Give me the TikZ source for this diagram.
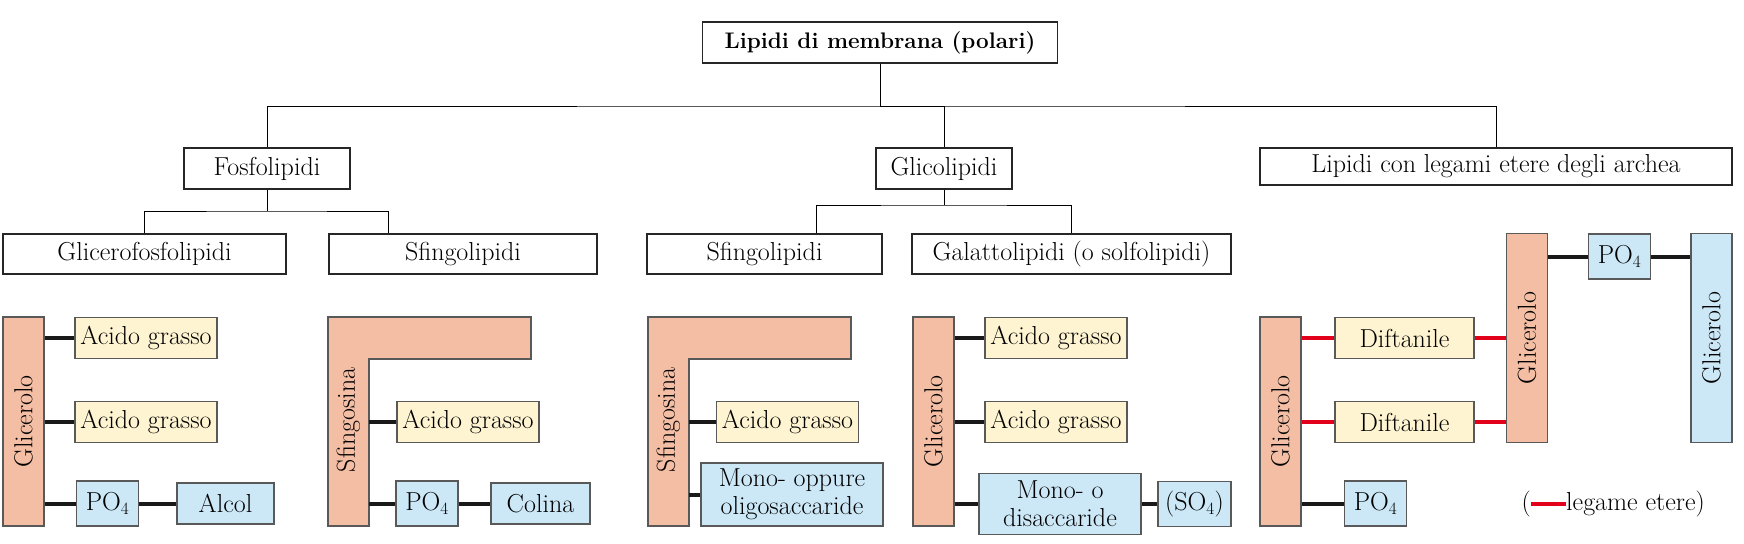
\documentclass[tikz,border=0pt]{standalone}
\usepackage{tikz}
\usepackage{xcolor}
\usepackage{fontspec}

\definecolor{salmon}{HTML}{F4BEA5}
\definecolor{fattyyel}{HTML}{FEF4D1}
\definecolor{phosblue}{HTML}{CCE8F7}
\definecolor{etherred}{HTML}{E3001B}

\tikzset{
  every node/.style={font=\fontsize{26}{28}\selectfont, inner sep=0pt},
  catbox/.style={draw=black!85, line width=1.2pt, fill=white, minimum height=41pt},
  part/.style={draw=black!65, line width=1.2pt, minimum height=41pt},
  fatty/.style={part, fill=fattyyel, minimum width=142pt},
  polar/.style={part, fill=phosblue, minimum width=62pt, minimum height=45pt},
  glbar/.style={part, fill=salmon, rotate=90, minimum width=209pt, minimum height=41pt},
  sfshape/.style={draw=black!65, line width=1.2pt, fill=salmon},
  bond/.style={line width=4pt, black!90},
  ether/.style={line width=4pt, etherred},
  tree/.style={line width=1pt, black},
}

\begin{document}
\begin{tikzpicture}[x=1pt, y=-1pt]
  \useasboundingbox (0,0) rectangle (1744,543);

  % Classification tree
  \node[catbox, minimum width=355pt, font=\fontsize{22.5}{26}\selectfont\bfseries] (root) at (880,42.5) {Lipidi di membrana (polari)};
  \node[catbox, minimum width=166pt] (fos) at (267,168.5) {Fosfolipidi};
  \node[catbox, minimum width=136pt] (gli) at (944,168.5) {Glicolipidi};
  \node[catbox, minimum width=472pt, minimum height=37pt] (arc) at (1496,166.5) {Lipidi con legami etere degli archea};
  \node[catbox, minimum width=283pt, minimum height=40pt] (gfl) at (144.5,254) {Glicerofosfolipidi};
  \node[catbox, minimum width=268pt, minimum height=40pt] (sfa) at (463,254) {Sfingolipidi};
  \node[catbox, minimum width=235pt, minimum height=40pt] (sfb) at (764.5,254) {Sfingolipidi};
  \node[catbox, minimum width=319pt, minimum height=40pt] (gal) at (1071.5,254) {Galattolipidi (o solfolipidi)};

  \coordinate (hub) at (880,106);
  \draw[tree] (root.south) -- (hub);
  \draw[tree] (fos.north) |- (hub) -| (arc.north);
  \draw[tree] (hub) -| (gli.north);
  \coordinate (fhub) at (267,211);
  \draw[tree] (fos.south) -- (fhub);
  \draw[tree] (gfl.north) |- (fhub) -| ([xshift=60pt]sfa.north west);
  \coordinate (ghub) at (944,205);
  \draw[tree] (gli.south) -- (ghub);
  \draw[tree] ([xshift=170pt]sfb.north west) |- (ghub) -| (gal.north);

  % Glicerofosfolipide
  \node[glbar] (gl1) at (23.5,421.5) {Glicerolo};
  \node[fatty] (fa1) at (146,338) {Acido grasso};
  \node[fatty] (fa2) at (146,422) {Acido grasso};
  \node[polar] (po1) at (107.5,503.5) {PO$_4$};
  \node[polar, minimum width=97pt, minimum height=41pt] (alc) at (225.5,503.5) {Alcol};
  \draw[bond] (fa1.west -| gl1.south) -- (fa1.west);
  \draw[bond] (fa2.west -| gl1.south) -- (fa2.west);
  \draw[bond] (po1.west -| gl1.south) -- (po1.west);
  \draw[bond] (po1.east) -- (alc.west);

  % Sfingolipide (sfingomielina)
  \filldraw[sfshape] (328,317) -- (531,317) -- (531,359) -- (369,359) -- (369,526) -- (328,526) -- cycle;
  \node[rotate=90] (sfg1) at (348.5,420) {Sfingosina};
  \coordinate (sfe1) at (369,420);
  \node[fatty] (fa3) at (468,422) {Acido grasso};
  \node[polar] (po2) at (427,503.5) {PO$_4$};
  \node[polar, minimum width=99pt, minimum height=41pt] (col) at (540.5,503.5) {Colina};
  \draw[bond] (fa3.west -| sfe1) -- (fa3.west);
  \draw[bond] (po2.west -| sfe1) -- (po2.west);
  \draw[bond] (po2.east) -- (col.west);

  % Glicosfingolipide
  \filldraw[sfshape] (648,317) -- (851,317) -- (851,359) -- (689,359) -- (689,526) -- (648,526) -- cycle;
  \node[rotate=90] (sfg2) at (668.5,420) {Sfingosina};
  \coordinate (sfe2) at (689,420);
  \node[fatty] (fa4) at (787.5,422) {Acido grasso};
  \node[polar, minimum width=182pt, minimum height=63pt, align=center] (mono1) at (792,494.5) {Mono- oppure\\oligosaccaride};
  \draw[bond] (fa4.west -| sfe2) -- (fa4.west);
  \draw[bond] (mono1.west -| sfe2) -- (mono1.west);

  % Galattolipide
  \node[glbar] (gl2) at (933.5,421.5) {Glicerolo};
  \node[fatty] (fa5) at (1056,338) {Acido grasso};
  \node[fatty] (fa6) at (1056,422) {Acido grasso};
  \node[polar, minimum width=162pt, minimum height=61pt, align=center] (mono2) at (1060,504) {Mono- o\\disaccaride};
  \node[polar, minimum width=73pt] (so4) at (1194.5,504) {(SO$_4$)};
  \draw[bond] (fa5.west -| gl2.south) -- (fa5.west);
  \draw[bond] (fa6.west -| gl2.south) -- (fa6.west);
  \draw[bond] (mono2.west -| gl2.south) -- (mono2.west);
  \draw[bond] (mono2.east) -- (so4.west);

  % Lipide degli archea
  \node[glbar] (gl3) at (1280.5,421.5) {Glicerolo};
  \node[fatty, minimum width=139pt] (dif1) at (1404.5,338) {Diftanile};
  \node[fatty, minimum width=139pt] (dif2) at (1404.5,422) {Diftanile};
  \node[glbar] (gl4) at (1527,338) {Glicerolo};
  \node[polar] (po3) at (1619.5,256.5) {PO$_4$};
  \node[glbar, fill=phosblue] (gl5) at (1711.5,338) {Glicerolo};
  \node[polar] (po4) at (1375.5,503.5) {PO$_4$};
  \draw[ether] (dif1.west -| gl3.south) -- (dif1.west);
  \draw[ether] (dif2.west -| gl3.south) -- (dif2.west);
  \draw[ether] (dif1.east) -- (dif1.east -| gl4.north);
  \draw[ether] (dif2.east) -- (dif2.east -| gl4.north);
  \draw[bond] (po3.west -| gl4.south) -- (po3.west);
  \draw[bond] (po3.east) -- (po3.east -| gl5.north);
  \draw[bond] (po4.west -| gl3.south) -- (po4.west);

  % Legend
  \node[anchor=east] (lpar) at (1531,504) {(};
  \node[anchor=west] (legtxt) at (1566,504) {legame etere)};
  \draw[ether] (lpar.east) -- (legtxt.west);
\end{tikzpicture}
\end{document}
